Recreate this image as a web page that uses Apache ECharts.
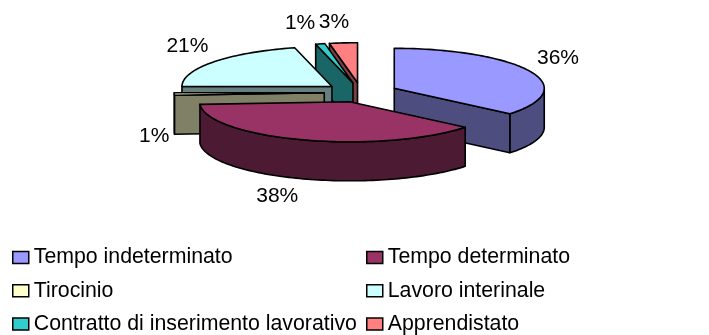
<!DOCTYPE html>
<html>
<head>
<meta charset="utf-8">
<script src="https://cdn.jsdelivr.net/npm/echarts@6/dist/echarts.min.js"></script>
<style>
  html, body { margin: 0; padding: 0; background: #fff; }
  #chart { width: 709px; height: 335px; }
</style>
</head>
<body>
<div id="chart"></div>
<script>
// Contract types and their share of the total (percent)
const categories = [
  'Tempo indeterminato',
  'Tempo determinato',
  'Tirocinio',
  'Lavoro interinale',
  'Contratto di inserimento lavorativo',
  'Apprendistato'
];
const shares = [36, 38, 1, 21, 1, 3];
const topColors = ['#9999FF', '#993366', '#FFFFCC', '#CCFFFF', '#33CCCC', '#FF8080'];
const sideColors = ['#4D4D80', '#4D1A33', '#808066', '#668080', '#1A6666', '#804040'];

// Layout of the tilted, exploded 3D pie (pixels)
const PIE = { cx: 361, cy: 92.5, rx: 150, ry: 40, h: 39, explode: 0.245 };
const FONT = 'Arial, "Liberation Sans", sans-serif';
const LABEL_SIZE = 21;

const total = shares.reduce((a, b) => a + b, 0);
const startAngles = [];
(function () {
  let acc = 0;
  shares.forEach(v => { startAngles.push(acc / total * 360); acc += v; });
})();

const RAD = Math.PI / 180;
const measureCtx = document.createElement('canvas').getContext('2d');
measureCtx.font = LABEL_SIZE + 'px ' + FONT;

function sliceGeom(i) {
  const a0 = startAngles[i];
  const a1 = a0 + shares[i] / total * 360;
  const bis = (a0 + a1) / 2 * RAD;
  const ox = PIE.explode * Math.sin(bis);
  const oy = PIE.explode * Math.cos(bis);
  return { a0, a1, bis, ox, oy };
}

// depth of the shifted slice centre: larger = further back, painted first
function sliceDepth(i) { return sliceGeom(i).oy; }
const drawRank = categories.map((_, i) =>
  categories.filter((_, j) => sliceDepth(j) > sliceDepth(i) || (sliceDepth(j) === sliceDepth(i) && j < i)).length
);

function proj(g, angDeg, r, bottom) {
  const t = angDeg * RAD;
  const X = g.ox + r * Math.sin(t);
  const Y = g.oy + r * Math.cos(t);
  return [PIE.cx + X * PIE.rx, PIE.cy - Y * PIE.ry + (bottom ? PIE.h : 0)];
}

function arc(g, from, to, bottom) {
  const pts = [];
  const n = Math.max(2, Math.ceil(Math.abs(to - from) / 1.5));
  for (let k = 0; k <= n; k++) pts.push(proj(g, from + (to - from) * k / n, 1, bottom));
  return pts;
}

function renderSlice(i) {
  const g = sliceGeom(i);
  const base = drawRank[i] * 10;
  const edge = { stroke: '#000', lineWidth: 1.6, lineJoin: 'round' };
  const children = [];
  const poly = (points, fill, z) => children.push({
    type: 'polygon', shape: { points }, z2: base + z,
    style: Object.assign({ fill }, edge)
  });

  // outer curved wall, front half only
  const lo = Math.max(g.a0, 90), hi = Math.min(g.a1, 270);
  if (hi > lo) {
    poly(arc(g, lo, hi, false).concat(arc(g, hi, lo, true)), sideColors[i], 1);
  }
  // radial cut faces that turn towards the viewer
  const radial = (ang) => [proj(g, 0, 0, false), proj(g, ang, 1, false), proj(g, ang, 1, true), proj(g, 0, 0, true)];
  if (Math.cos((g.a0 - 90) * RAD) < -1e-3) poly(radial(g.a0), sideColors[i], 2);
  if (Math.cos((g.a1 + 90) * RAD) < -1e-3) poly(radial(g.a1), sideColors[i], 3);
  // top face
  poly([proj(g, 0, 0, false)].concat(arc(g, g.a0, g.a1, false)), topColors[i], 5);

  // percentage label just outside the rim, along the slice bisector
  const text = Math.round(shares[i] / total * 100) + '%';
  const w = measureCtx.measureText(text).width;
  const hh = LABEL_SIZE * 0.45;
  const sb = Math.sin(g.bis), cb = Math.cos(g.bis);
  const anchor = proj(g, g.bis / RAD, 1, cb < 0);
  const fx = Math.min(1, 5 * Math.abs(sb));
  const lx = anchor[0] + Math.sign(sb) * fx * (w / 2 + 5);
  const fy = Math.min(1, 6 * Math.abs(cb));
  const gy = cb > 0 ? 2.5 + 9 * cb * cb : 1 + 8 * cb * cb;
  const ly = anchor[1] - Math.sign(cb) * fy * (hh + gy) + (1 - fy) * 2;
  children.push({
    type: 'text', z2: 1000,
    style: {
      text: text, x: lx + (sb > 0 ? 2 : 0), y: ly,
      align: 'center', verticalAlign: 'middle',
      font: LABEL_SIZE + 'px ' + FONT, fill: '#000'
    }
  });
  return { type: 'group', children };
}

const chart = echarts.init(document.getElementById('chart'));

const legendCommon = {
  orient: 'vertical', padding: 0, top: 247, height: 120,
  icon: 'rect', itemWidth: 16, itemHeight: 12, itemGap: 12.3,
  selectedMode: false,
  itemStyle: { borderColor: '#000', borderWidth: 1.5 },
  textStyle: { fontSize: 21.3, fontFamily: FONT, color: '#000', lineHeight: 20 }
};

chart.setOption({
  animation: false,
  color: topColors,
  legend: [
    Object.assign({ left: 12, data: categories.filter((_, i) => i % 2 === 0) }, legendCommon),
    Object.assign({ left: 366, data: categories.filter((_, i) => i % 2 === 1) }, legendCommon)
  ],
  series: categories.map((name, i) => ({
    type: 'custom',
    name: name,
    coordinateSystem: 'none',
    silent: true,
    itemStyle: { color: topColors[i] },
    data: [[shares[i]]],
    renderItem: () => renderSlice(i)
  }))
});
</script>
</body>
</html>
